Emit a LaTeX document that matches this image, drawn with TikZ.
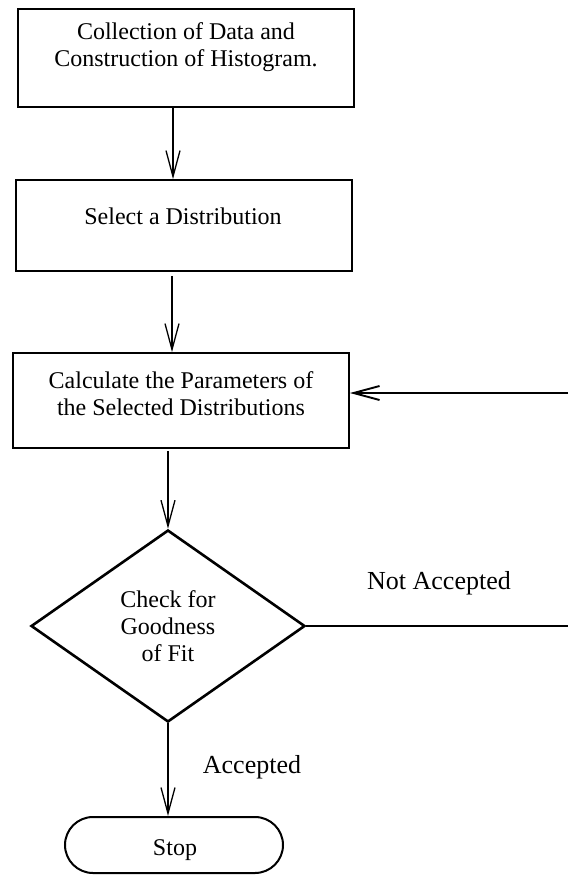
\documentclass[tikz,border=0pt]{standalone}
\usepackage{fontspec}
\setmainfont{Liberation Serif}
\usetikzlibrary{arrows.meta,shapes.geometric,shapes.misc}
\begin{document}
\begin{tikzpicture}[x=1pt,y=-1pt,
  box/.style={draw, line width=1.8pt, minimum width=336pt, inner sep=0pt},
  txt/.style={align=center, font=\fontsize{24}{27}\selectfont, inner sep=0pt},
  lbl/.style={font=\fontsize{26}{30}\selectfont, inner sep=0pt},
  arr/.style={line width=1.3pt, -{Straight Barb[length=26pt,width=14pt]}},
  fbarr/.style={line width=1.9pt, -{Straight Barb[length=26pt,width=14pt]}},
  plain/.style={line width=1.9pt}
]
\useasboundingbox (0,0) rectangle (568,876);
\fill[white] (0,0) rectangle (568,876);

\node[box, minimum height=98pt] (b1) at (186,58) {};
\node[txt] (t1) at (186,47) {Collection of Data and\\Construction of Histogram.};
\node[box, minimum height=91pt] (b2) at (184,225.5) {};
\node[txt] (t2) at (183,216) {Select a Distribution};
\node[box, minimum height=95pt] (b3) at (181,400.5) {};
\node[txt] (t3) at (181,394) {Calculate the Parameters of\\the Selected Distributions};
\node[diamond, draw, line width=2.6pt, minimum width=274pt, minimum height=192pt, txt] (d) at (168,626) {Check for\\Goodness\\of Fit};
\node[rounded rectangle, draw, line width=2pt, minimum width=218pt, minimum height=56pt, inner sep=0pt] (s) at (174,845) {};
\node[txt] (ts) at (175,850) {Stop};

\draw[arr] ([xshift=-13pt]b1.south) -- ([xshift=-11pt]b2.north);
\draw[arr] ([xshift=-12pt,yshift=-4pt]b2.south) -- ([xshift=-9pt]b3.north);
\draw[arr] ([xshift=-13pt,yshift=-2pt]b3.south) -- (d.north);
\draw[arr] (d.south) -- ([xshift=-6pt]s.north);

\coordinate (fb) at (568,393);
\draw[fbarr] (fb) -- (b3.east |- fb);
\coordinate (na) at (568,626);
\draw[plain] (d.east) -- (na);

\node[lbl] (l1) at (439,583) {Not Accepted};
\node[lbl] (l2) at (252,767) {Accepted};
\end{tikzpicture}
\end{document}
